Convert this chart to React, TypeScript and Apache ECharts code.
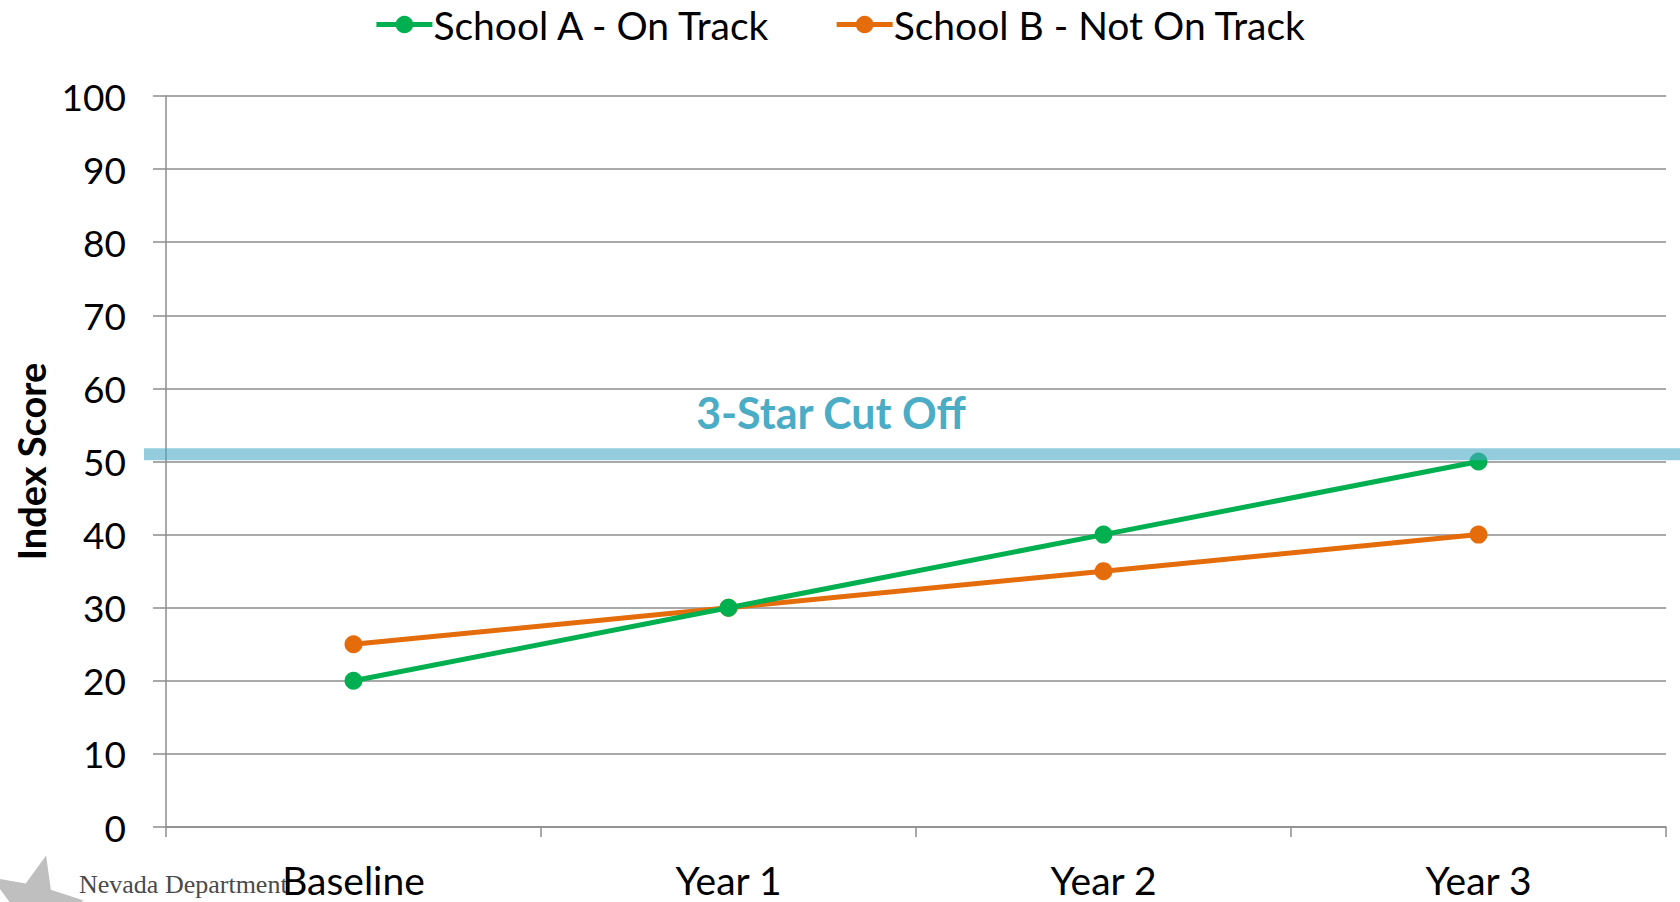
import React, { useEffect, useRef } from "react";
import * as echarts from "echarts";

const categories = ["Baseline", "Year 1", "Year 2", "Year 3"];
const schoolA = [20, 30, 40, 50];
const schoolB = [25, 30, 35, 40];
const cutoffValue = 51;
const cutoffLabel = "3-Star Cut Off";
const seriesNames = ["School A - On Track", "School B - Not On Track"];
const yTicks = { min: 0, max: 100, interval: 10 };

const FONT = "Lato, 'Open Sans', sans-serif";

function starPoints(cx: number, cy: number, rOuter: number, rInner: number, rotDeg: number) {
  const pts: number[][] = [];
  const rot = (rotDeg * Math.PI) / 180;
  for (let i = 0; i < 10; i++) {
    const r = i % 2 === 0 ? rOuter : rInner;
    const ang = -Math.PI / 2 + rot + (i * Math.PI) / 5;
    pts.push([cx + r * Math.cos(ang), cy + r * Math.sin(ang)]);
  }
  return pts;
}

export default function App() {
  const ref = useRef<HTMLDivElement>(null);
  useEffect(() => {
    if (!ref.current) return;
    const chart = echarts.init(ref.current, undefined, { renderer: "svg" });
    chart.setOption({
      animation: false,
      backgroundColor: "#ffffff",
      textStyle: { fontFamily: FONT },
      legend: {
        top: 0,
        left: "center",
        itemWidth: 56,
        itemHeight: 22,
        itemGap: 62,
        lineStyle: { width: 5 },
        textStyle: { fontSize: 39, color: "#000", fontFamily: FONT, padding: [0, 0, 0, -4] },
        data: seriesNames,
      },
      grid: { left: 166, right: 14, top: 96, bottom: 75, outerBoundsMode: "none", containLabel: false },
      xAxis: {
        type: "category",
        data: categories,
        boundaryGap: true,
        axisLine: { lineStyle: { color: "#8c8c8c", width: 1.5 } },
        axisTick: { show: true, length: 10, lineStyle: { color: "#8c8c8c", width: 1.5 } },
        axisLabel: { fontSize: 39, lineHeight: 40, color: "#000", margin: 33, fontFamily: FONT },
      },
      yAxis: {
        type: "value",
        min: yTicks.min,
        max: yTicks.max,
        interval: yTicks.interval,
        name: "Index Score",
        nameLocation: "middle",
        nameRotate: 90,
        nameGap: 116,
        nameTextStyle: { fontSize: 38, fontWeight: "bold", color: "#000", fontFamily: FONT },
        axisLine: { show: true, lineStyle: { color: "#8c8c8c", width: 1.5 } },
        axisTick: { show: true, length: 13, lineStyle: { color: "#8c8c8c", width: 1.5 } },
        axisLabel: { fontSize: 37, color: "#000", margin: 40, fontFamily: FONT },
        splitLine: { show: true, lineStyle: { color: "#8c8c8c", width: 1.5 } },
      },
      series: [
        {
          name: seriesNames[0],
          type: "line",
          data: schoolA,
          symbol: "circle",
          symbolSize: 18,
          itemStyle: { color: "#00B050" },
          lineStyle: { color: "#00B050", width: 5 },
          z: 3,
        },
        {
          name: seriesNames[1],
          type: "line",
          data: schoolB,
          symbol: "circle",
          symbolSize: 18,
          itemStyle: { color: "#E46C0A" },
          lineStyle: { color: "#E46C0A", width: 5 },
          z: 2,
        },
      ],
    });

    const yPx = chart.convertToPixel({ yAxisIndex: 0 }, cutoffValue) as number;
    const xMid = chart.convertToPixel({ xAxisIndex: 0 }, categories[1]) as number;
    const xMid2 = chart.convertToPixel({ xAxisIndex: 0 }, categories[2]) as number;
    const labelX = (xMid + xMid2) / 2 - 85;

    chart.setOption({
      graphic: [
        {
          type: "rect",
          z: 100,
          shape: { x: 144, y: yPx - 6, width: 1680 - 144, height: 12 },
          style: { fill: "rgba(75,172,198,0.6)" },
        },
        {
          type: "text",
          z: 100,
          x: labelX,
          y: yPx - 42,
          style: {
            text: cutoffLabel,
            fill: "#4BACC6",
            font: `bold 43px ${FONT}`,
            textAlign: "center",
            textVerticalAlign: "middle",
          },
        },
        {
          type: "polygon",
          z: 0,
          shape: { points: starPoints(34, 904, 50, 22, 14) },
          style: { fill: "#BFBFBF" },
        },
        {
          type: "text",
          z: 0,
          x: 79,
          y: 884,
          style: {
            text: "Nevada Department",
            fill: "#4a4a4a",
            font: "26px 'Liberation Serif', 'DejaVu Serif', serif",
            textVerticalAlign: "middle",
          },
        },
      ],
    });

    return () => chart.dispose();
  }, []);
  return (
    <div
      ref={ref}
      style={{ position: "fixed", left: 0, top: 0, width: 1680, height: 902 }}
    />
  );
}
